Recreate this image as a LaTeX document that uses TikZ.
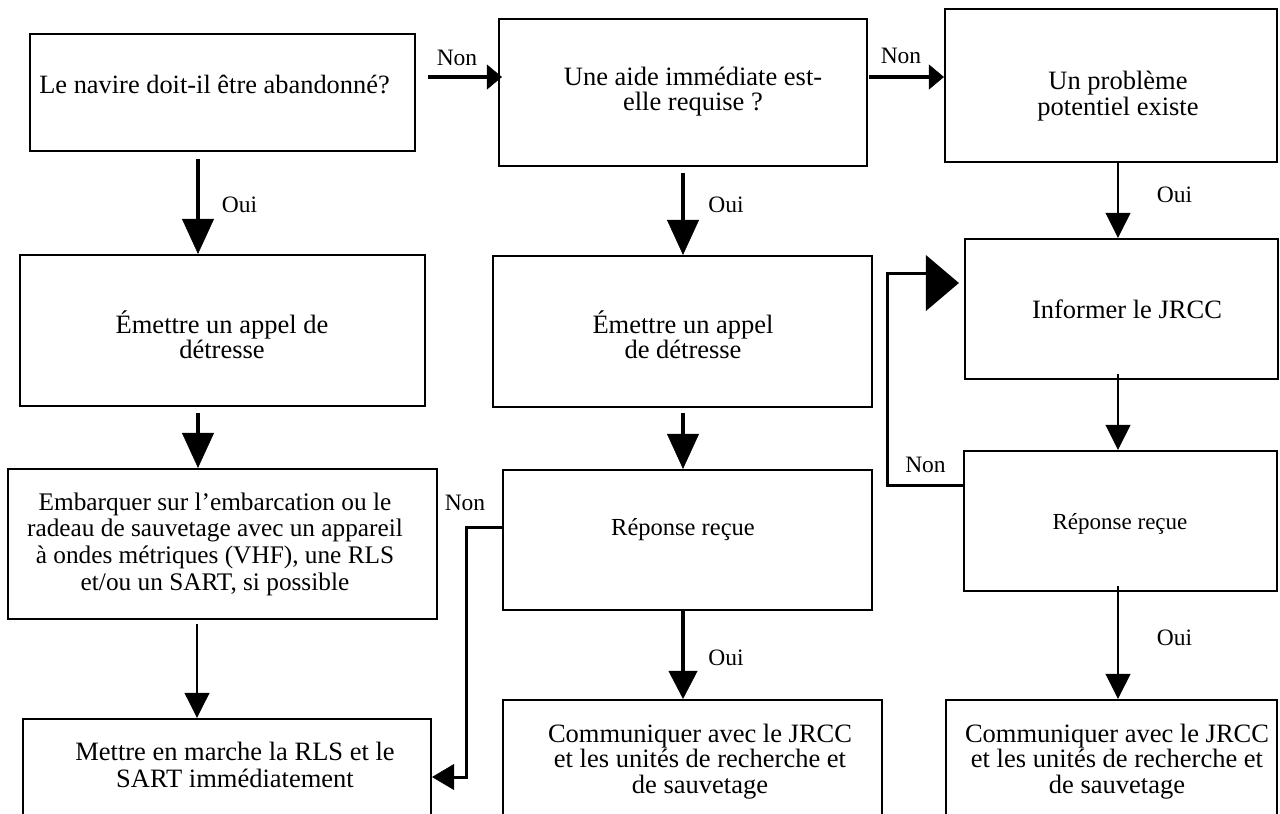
\documentclass[tikz,border=0pt]{standalone}
\usepackage{fontspec}
\setmainfont{Liberation Serif}
\usetikzlibrary{arrows.meta,calc}
\newcommand{\mlines}[1]{\begin{tabular}[t]{@{}c@{}}#1\end{tabular}}
\begin{document}
\begin{tikzpicture}[x=1pt,y=-1pt,
  box/.style={draw, line width=2.2pt, inner sep=0pt, rectangle},
  txt/.style={inner sep=0pt, anchor=base},
  lbl/.style={inner sep=0pt, anchor=base, font=\fontsize{23.5}{26}\selectfont},
  bigarr/.style={line width=4pt, -{Triangle[length=35pt,width=32pt,line width=0.5pt]}},
  medarr/.style={line width=4pt, -{Triangle[length=28pt,width=29pt,line width=0.5pt]}},
  nonarr/.style={line width=4pt, -{Triangle[length=15pt,width=25pt,line width=0.5pt]}},
  thinarr/.style={line width=2pt, -{Triangle[length=25pt,width=25pt,line width=0.5pt]}},
  backarr/.style={line width=3pt, -{Triangle[length=22pt,width=26pt,line width=0.5pt]}}]
\useasboundingbox (0,0) rectangle (1280,814);
\clip (0,0) rectangle (1280,814);
\fill[white] (0,0) rectangle (1280,814);

% boxes
\node[box, minimum width=385pt, minimum height=117pt] (b1) at (222.5,92.5) {};
\node[box, minimum width=368pt, minimum height=147pt] (b2) at (683,92.5) {};
\node[box, minimum width=332pt, minimum height=153pt] (b3) at (1111,85.5) {};
\node[box, minimum width=405pt, minimum height=151pt] (b4) at (222.5,330.5) {};
\node[box, minimum width=379pt, minimum height=151pt] (b5) at (682.5,331.5) {};
\node[box, minimum width=313pt, minimum height=140pt] (b6) at (1121.5,309) {};
\node[box, minimum width=429pt, minimum height=150pt] (b7) at (222.5,544) {};
\node[box, minimum width=369pt, minimum height=140pt] (b9) at (687.5,540) {};
\node[box, minimum width=313pt, minimum height=140pt] (b11) at (1120.5,521) {};
\node[box, minimum width=408pt, minimum height=200pt] (b8) at (227,819) {};
\node[box, minimum width=379pt, minimum height=200pt] (b10) at (692.5,800) {};
\node[box, minimum width=331pt, minimum height=200pt] (b12) at (1111.5,800) {};

% texts
\node[txt, font=\fontsize{26.4}{28}\selectfont] (t1) at (214.5,93) {Le navire doit-il être abandonné?};
\node[txt, font=\fontsize{26.5}{25}\selectfont] (t2) at (693,85) {\mlines{Une aide immédiate est-\\elle requise ?}};
\node[txt, font=\fontsize{26.5}{26}\selectfont] (t3) at (1118,89) {\mlines{Un problème\\potentiel existe}};
\node[txt, font=\fontsize{26.5}{25}\selectfont] (t4) at (222,333) {\mlines{Émettre un appel de\\détresse}};
\node[txt, font=\fontsize{26.5}{25}\selectfont] (t5) at (683,333) {\mlines{Émettre un appel\\de détresse}};
\node[txt, font=\fontsize{26.5}{28}\selectfont] (t6) at (1127,318) {Informer le JRCC};
\node[txt, font=\fontsize{25.3}{26.7}\selectfont] (t7) at (215,510) {\mlines{Embarquer sur l’embarcation ou le\\radeau de sauvetage avec un appareil\\à ondes métriques (VHF), une RLS\\et/ou un SART, si possible}};
\node[txt, font=\fontsize{26.5}{27}\selectfont] (t8) at (235,760) {\mlines{Mettre en marche la RLS et le\\SART immédiatement}};
\node[txt, font=\fontsize{24.5}{26}\selectfont] (t9) at (683,535) {Réponse reçue};
\node[txt, font=\fontsize{26.5}{25}\selectfont] (t10) at (700,742) {\mlines{Communiquer avec le JRCC\\et les unités de recherche et\\de sauvetage}};
\node[txt, font=\fontsize{23}{26}\selectfont] (t11) at (1120,529) {Réponse reçue};
\node[txt, font=\fontsize{26.5}{24}\selectfont] (t12) at (1117,742) {\mlines{Communiquer avec le JRCC\\et les unités de recherche et\\de sauvetage}};

% labels
\node[lbl] (n1) at (457,65) {Non};
\node[lbl] (n2) at (901,63) {Non};
\node[lbl] (o1) at (239.5,212) {Oui};
\node[lbl] (o2) at (726,212) {Oui};
\node[lbl] (o3) at (1174.5,202) {Oui};
\node[lbl] (n3) at (465,510) {Non};
\node[lbl] (o4) at (726,665) {Oui};
\node[lbl] (n4) at (925.5,472) {Non};
\node[lbl] (o5) at (1174.5,645) {Oui};

% connectors
\draw[nonarr] ($(b1.east |- 0,77)+(12,0)$) -- ($(b2.west |- 0,77)+(4,0)$);
\draw[nonarr] ($(b2.east |- 0,77)+(1,0)$) -- (b3.west |- 0,77);
\draw[bigarr] ($(198,0 |- b1.south)+(0,7)$) -- (198,0 |- b4.north);
\draw[bigarr] ($(683,0 |- b2.south)+(0,6)$) -- (683,0 |- b5.north);
\draw[thinarr] (1118,0 |- b3.south) -- (1118,0 |- b6.north);
\draw[bigarr] ($(198,0 |- b4.south)+(0,6)$) -- (198,0 |- b7.north);
\draw[bigarr] ($(683,0 |- b5.south)+(0,5)$) -- (683,0 |- b9.north);
\draw[thinarr] ($(197,0 |- b7.south)+(0,4)$) -- (197,0 |- b8.north);
\draw[medarr] (683,0 |- b9.south) -- (683,0 |- b10.north);
\draw[thinarr] ($(1118,0 |- b6.south)+(0,-6)$) -- (1118,0 |- b11.north);
\draw[thinarr] ($(1118,0 |- b11.south)+(0,-6)$) -- (1118,0 |- b12.north);
\draw[backarr] (b9.west |- 0,527) -- (466,527) |- (b8.east |- 0,777);
\draw[line width=3pt, line cap=rect] (b11.west |- 0,485) -| (887,273) -- (927,273);
\fill ($(b6.west)+(-38,-54)$) -- ($(b6.west)+(-5,-26)$) -- ($(b6.west)+(-38,2)$) -- cycle;
\end{tikzpicture}
\end{document}
